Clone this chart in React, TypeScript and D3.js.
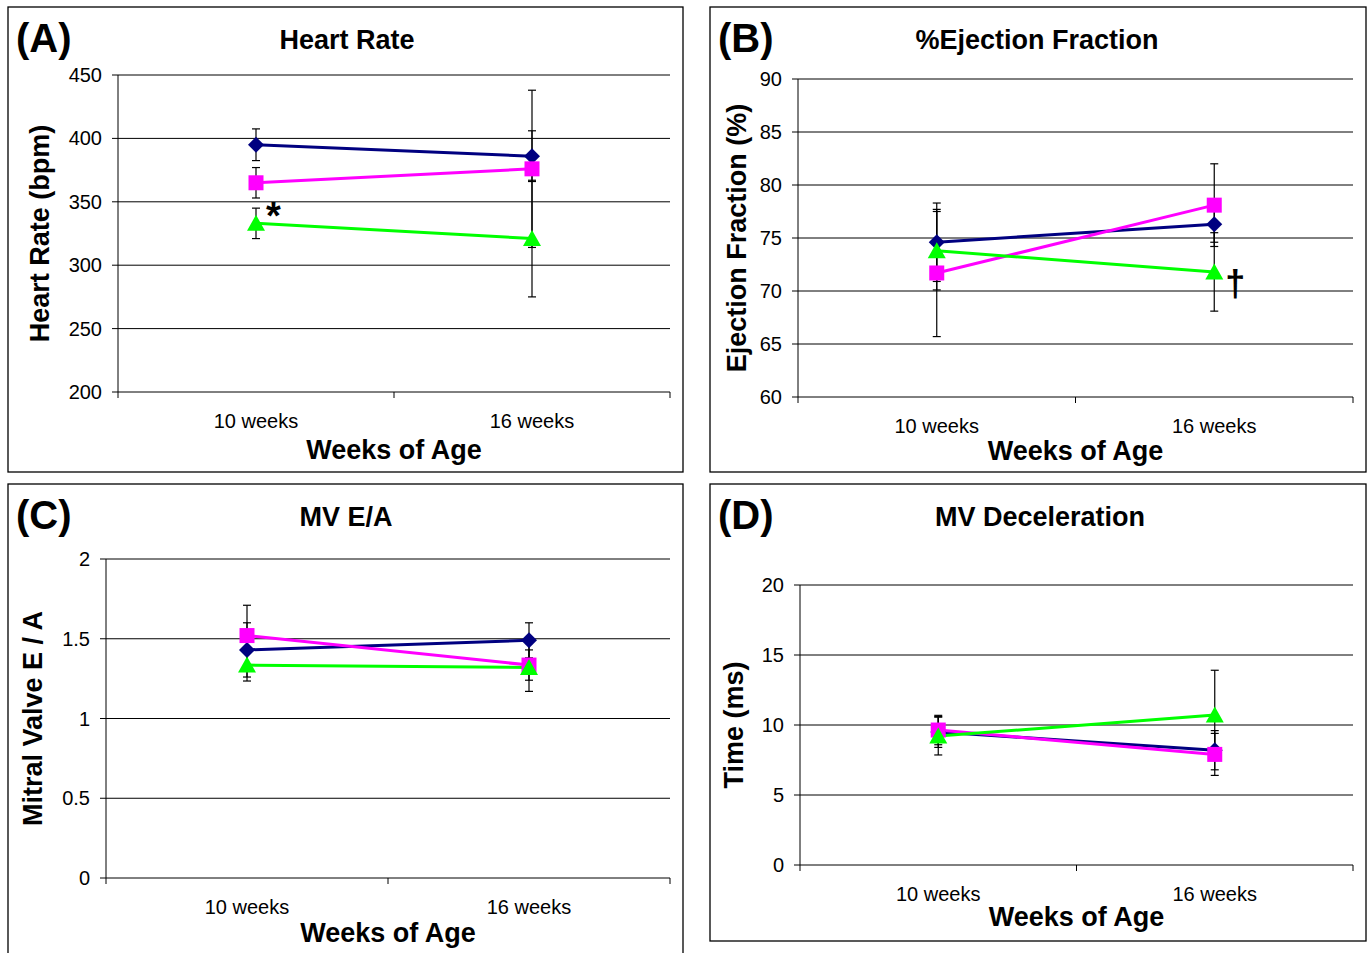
import React from "react";
import * as d3 from "d3";

// categories
const weeks = ["10 weeks", "16 weeks"];

// (A) heart rate, bpm
const hrNavy = [395, 386];
const hrNavyErr = [12.5, 20];
const hrPink = [365, 376];
const hrPinkErr = [12, 62];
const hrGreen = [333, 321];
const hrGreenErr = [12, 46];
const hrTicks = [200, 250, 300, 350, 400, 450];

// (B) ejection fraction, %
const efNavy = [74.6, 76.3];
const efNavyErr = [3.7, 1.7];
const efPink = [71.7, 78.1];
const efPinkErr = [6, 3.9];
const efGreen = [73.8, 71.8];
const efGreenErr = [3.7, 3.7];
const efTicks = [60, 65, 70, 75, 80, 85, 90];

// (C) mitral valve E/A
const eaNavy = [1.43, 1.49];
const eaNavyErr = [0.17, 0.11];
const eaPink = [1.52, 1.335];
const eaPinkErr = [0.19, 0.095];
const eaGreen = [1.335, 1.32];
const eaGreenErr = [0.1, 0.15];
const eaTicks = [0, 0.5, 1, 1.5, 2];

// (D) MV deceleration time, ms
const decNavy = [9.5, 8.2];
const decNavyErr = [1.1, 1.4];
const decPink = [9.64, 7.9];
const decPinkErr = [1.05, 1.5];
const decGreen = [9.21, 10.71];
const decGreenErr = [1.35, 3.2];
const decTicks = [0, 5, 10, 15, 20];

const FONT = "'Liberation Sans', Arial, Helvetica, sans-serif";
const NAVY = "#000080";
const PINK = "#ff00ff";
const GREEN = "#00ff00";

const Marker = ({ shape, x, y, color }) => {
  if (shape === "diamond") {
    const r = 8;
    return <path d={`M${x},${y - r}L${x + r},${y}L${x},${y + r}L${x - r},${y}Z`} fill={color} />;
  }
  if (shape === "square") {
    const s = 15;
    return <rect x={x - s / 2} y={y - s / 2} width={s} height={s} fill={color} />;
  }
  const w = 18, h = 15;
  return <path d={`M${x},${y - h / 2 - 1}L${x + w / 2},${y + h / 2}L${x - w / 2},${y + h / 2}Z`} fill={color} />;
};

const Panel = ({ p }) => {
  const y = d3.scaleLinear().domain([p.ticks[0], p.ticks[p.ticks.length - 1]]).range([p.bottom, p.top]);
  const band = d3.scaleBand().domain(weeks).range([p.left, p.right]);
  const cx = (d) => band(d) + band.bandwidth() / 2;
  const line = d3
    .line()
    .x((d, i) => cx(weeks[i]))
    .y((d) => y(d));

  const xTicks = weeks.map((w) => band(w)).concat([p.right]);

  return (
    <g fontFamily={FONT}>
      <rect x={p.box[0]} y={p.box[1]} width={p.box[2] - p.box[0]} height={p.box[3] - p.box[1]} fill="#fff" stroke="#000" strokeWidth={1.3} />
      <text x={p.box[0] + 8} y={p.box[1] + 45} fontSize={40} fontWeight="bold">{p.letter}</text>
      <text x={p.titleX} y={p.box[1] + 42} fontSize={27} fontWeight="bold" textAnchor="middle">{p.title}</text>

      {p.ticks.map((t) => (
        <g key={t}>
          <line x1={p.left - 6} x2={p.right} y1={y(t)} y2={y(t)} stroke="#000" strokeWidth={1} />
          <text x={p.left - 16} y={y(t) + 7} fontSize={20} textAnchor="end">{t}</text>
        </g>
      ))}
      <line x1={p.left} x2={p.left} y1={p.top} y2={p.bottom} stroke="#000" strokeWidth={1} />
      {xTicks.map((t, i) => (
        <line key={i} x1={t} x2={t} y1={p.bottom} y2={p.bottom + 6} stroke="#000" strokeWidth={1} />
      ))}
      {weeks.map((w) => (
        <text key={w} x={cx(w)} y={p.bottom + 36} fontSize={20} textAnchor="middle">{w}</text>
      ))}
      <text x={(p.left + p.right) / 2} y={p.bottom + p.xTitleDy} fontSize={27} fontWeight="bold" textAnchor="middle">Weeks of Age</text>
      <text
        transform={`translate(${p.yLabelX},${(p.top + p.bottom) / 2 + p.yLabelDy}) rotate(-90)`}
        fontSize={27}
        fontWeight="bold"
        textAnchor="middle"
      >
        {p.yLabel}
      </text>

      {p.series.map((s, si) => (
        <g key={"e" + si}>
          {s.values.map((v, i) => {
            const x = cx(weeks[i]);
            const hi = y(v + s.err[i]);
            const lo = y(v - s.err[i]);
            return (
              <g key={i} stroke="#000" strokeWidth={1.2}>
                <line x1={x} x2={x} y1={hi} y2={lo} />
                <line x1={x - 4} x2={x + 4} y1={hi} y2={hi} />
                <line x1={x - 4} x2={x + 4} y1={lo} y2={lo} />
              </g>
            );
          })}
        </g>
      ))}
      {p.series.map((s, si) => (
        <path key={"l" + si} d={line(s.values)} fill="none" stroke={s.color} strokeWidth={3} />
      ))}
      {p.series.map((s, si) =>
        s.values.map((v, i) => (
          <Marker key={"m" + si + i} shape={s.shape} x={cx(weeks[i])} y={y(v)} color={s.color} />
        ))
      )}
      {p.note && (
        <text
          x={cx(weeks[p.note.at]) + p.note.dx}
          y={y(p.note.value) + p.note.dy}
          fontSize={p.note.size}
          fontWeight="bold"
        >
          {p.note.text}
        </text>
      )}
    </g>
  );
};

const panels = [
  {
    letter: "(A)",
    title: "Heart Rate",
    titleX: 347,
    yLabel: "Heart Rate (bpm)",
    yLabelX: 49,
    yLabelDy: 0,
    box: [8, 7, 683, 472],
    left: 118, right: 670, top: 75, bottom: 392,
    xTitleDy: 67,
    ticks: hrTicks,
    series: [
      { values: hrNavy, err: hrNavyErr, color: NAVY, shape: "diamond" },
      { values: hrPink, err: hrPinkErr, color: PINK, shape: "square" },
      { values: hrGreen, err: hrGreenErr, color: GREEN, shape: "triangle" },
    ],
    note: { text: "*", at: 0, value: hrGreen[0], dx: 10, dy: 6, size: 38 },
  },
  {
    letter: "(B)",
    title: "%Ejection Fraction",
    titleX: 1037,
    yLabel: "Ejection Fraction (%)",
    yLabelX: 746,
    yLabelDy: 0,
    box: [710, 7, 1366, 472],
    left: 798, right: 1353, top: 79, bottom: 397,
    xTitleDy: 63,
    ticks: efTicks,
    series: [
      { values: efNavy, err: efNavyErr, color: NAVY, shape: "diamond" },
      { values: efPink, err: efPinkErr, color: PINK, shape: "square" },
      { values: efGreen, err: efGreenErr, color: GREEN, shape: "triangle" },
    ],
    note: { text: "†", at: 1, value: efGreen[1], dx: 11, dy: 24, size: 36 },
  },
  {
    letter: "(C)",
    title: "MV E/A",
    titleX: 346,
    yLabel: "Mitral Valve E / A",
    yLabelX: 42,
    yLabelDy: 0,
    box: [8, 484, 683, 970],
    left: 106, right: 670, top: 559, bottom: 878,
    xTitleDy: 64,
    ticks: eaTicks,
    series: [
      { values: eaNavy, err: eaNavyErr, color: NAVY, shape: "diamond" },
      { values: eaPink, err: eaPinkErr, color: PINK, shape: "square" },
      { values: eaGreen, err: eaGreenErr, color: GREEN, shape: "triangle" },
    ],
  },
  {
    letter: "(D)",
    title: "MV Deceleration",
    titleX: 1040,
    yLabel: "Time (ms)",
    yLabelX: 743,
    yLabelDy: 0,
    box: [710, 484, 1366, 941],
    left: 800, right: 1353, top: 585, bottom: 865,
    xTitleDy: 61,
    ticks: decTicks,
    series: [
      { values: decNavy, err: decNavyErr, color: NAVY, shape: "diamond" },
      { values: decPink, err: decPinkErr, color: PINK, shape: "square" },
      { values: decGreen, err: decGreenErr, color: GREEN, shape: "triangle" },
    ],
  },
];

export default function App() {
  return (
    <svg
      width={1371}
      height={953}
      style={{ position: "absolute", left: 0, top: 0, background: "#fff" }}
    >
      {panels.map((p) => (
        <Panel key={p.letter} p={p} />
      ))}
    </svg>
  );
}
